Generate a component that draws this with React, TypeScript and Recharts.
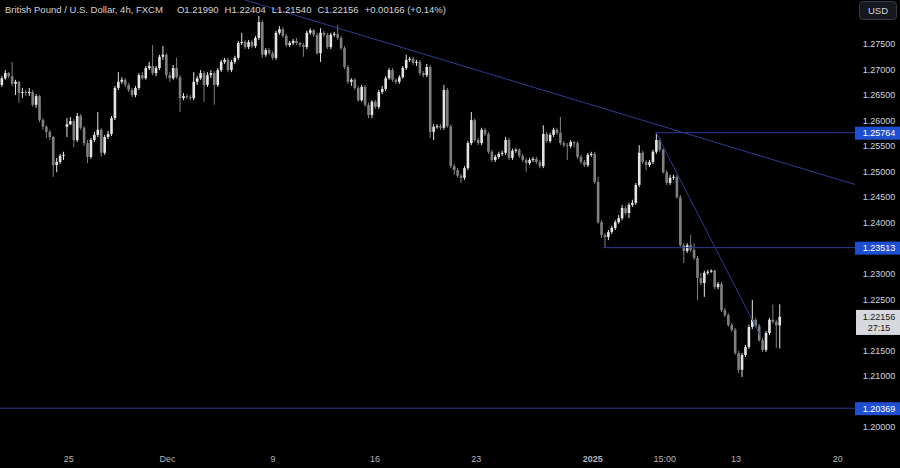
import { Bar, ComposedChart, ReferenceLine, XAxis, YAxis } from 'recharts'

// GBP/USD 4h candles (O/H/L/C)
const opens = [
  1.2670, 1.2683, 1.2693, 1.2687, 1.2672, 1.2676, 1.2654, 1.2656, 1.2654, 1.2656,
  1.2631, 1.2648, 1.2601, 1.2588, 1.2578, 1.2568, 1.2513, 1.2519, 1.2531, 1.2588,
  1.2593, 1.2599, 1.2562, 1.2609, 1.2586, 1.2556, 1.2529, 1.2562, 1.2572, 1.2582,
  1.2537, 1.2568, 1.2574, 1.2605, 1.2664, 1.2676, 1.2680, 1.2670, 1.2660, 1.2650,
  1.2664, 1.2689, 1.2683, 1.2703, 1.2707, 1.2693, 1.2703, 1.2725, 1.2729, 1.2689,
  1.2683, 1.2703, 1.2685, 1.2644, 1.2648, 1.2646, 1.2644, 1.2676, 1.2683, 1.2693,
  1.2670, 1.2689, 1.2693, 1.2670, 1.2699, 1.2715, 1.2719, 1.2699, 1.2715, 1.2723,
  1.2752, 1.2754, 1.2744, 1.2754, 1.2746, 1.2762, 1.2793, 1.2729, 1.2738, 1.2732,
  1.2723, 1.2772, 1.2779, 1.2766, 1.2748, 1.2752, 1.2756, 1.2752, 1.2748, 1.2744,
  1.2772, 1.2777, 1.2768, 1.2732, 1.2772, 1.2768, 1.2744, 1.2768, 1.2770, 1.2762,
  1.2742, 1.2705, 1.2676, 1.2680, 1.2664, 1.2640, 1.2666, 1.2631, 1.2611, 1.2637,
  1.2627, 1.2656, 1.2662, 1.2683, 1.2699, 1.2680, 1.2676, 1.2685, 1.2703, 1.2719,
  1.2721, 1.2713, 1.2715, 1.2693, 1.2689, 1.2705, 1.2578, 1.2588, 1.2589, 1.2586,
  1.2660, 1.2589, 1.2511, 1.2503, 1.2492, 1.2488, 1.2507, 1.2556, 1.2601, 1.2562,
  1.2556, 1.2582, 1.2574, 1.2539, 1.2523, 1.2529, 1.2535, 1.2537, 1.2562, 1.2527,
  1.2541, 1.2543, 1.2531, 1.2523, 1.2517, 1.2523, 1.2525, 1.2519, 1.2511, 1.2574,
  1.2560, 1.2572, 1.2582, 1.2576, 1.2556, 1.2552, 1.2550, 1.2558, 1.2556, 1.2529,
  1.2519, 1.2513, 1.2533, 1.2535, 1.2480, 1.2401, 1.2376, 1.2372, 1.2382, 1.2390,
  1.2401, 1.2409, 1.2429, 1.2419, 1.2435, 1.2439, 1.2474, 1.2537, 1.2519, 1.2513,
  1.2519, 1.2539, 1.2562, 1.2543, 1.2499, 1.2478, 1.2488, 1.2490, 1.2450, 1.2356,
  1.2345, 1.2356, 1.2347, 1.2331, 1.2292, 1.2282, 1.2302, 1.2304, 1.2306, 1.2274,
  1.2280, 1.2229, 1.2219, 1.2200, 1.2190, 1.2145, 1.2112, 1.2141, 1.2157, 1.2196,
  1.2210, 1.2198, 1.2170, 1.2151, 1.2184, 1.2210, 1.2206, 1.21990,
]

const highs = [
  1.2687, 1.2699, 1.2695, 1.2715, 1.2680, 1.2678, 1.2664, 1.2660, 1.2664, 1.2660,
  1.2652, 1.2650, 1.2605, 1.2591, 1.2582, 1.2570, 1.2527, 1.2535, 1.2539, 1.2605,
  1.2607, 1.2603, 1.2615, 1.2613, 1.2589, 1.2562, 1.2566, 1.2578, 1.2617, 1.2586,
  1.2572, 1.2580, 1.2609, 1.2668, 1.2695, 1.2685, 1.2683, 1.2674, 1.2664, 1.2668,
  1.2693, 1.2695, 1.2707, 1.2715, 1.2748, 1.2707, 1.2729, 1.2746, 1.2732, 1.2695,
  1.2709, 1.2723, 1.2689, 1.2654, 1.2652, 1.2650, 1.2695, 1.2687, 1.2699, 1.2697,
  1.2695, 1.2699, 1.2697, 1.2703, 1.2719, 1.2723, 1.2723, 1.2719, 1.2727, 1.2756,
  1.2772, 1.2758, 1.2758, 1.2758, 1.2766, 1.2805, 1.2797, 1.2742, 1.2742, 1.2736,
  1.2776, 1.2785, 1.2783, 1.2770, 1.2756, 1.2760, 1.2762, 1.2754, 1.2752, 1.2776,
  1.2781, 1.2779, 1.2772, 1.2781, 1.2776, 1.2772, 1.2772, 1.2774, 1.2787, 1.2766,
  1.2746, 1.2709, 1.2683, 1.2683, 1.2668, 1.2670, 1.2670, 1.2635, 1.2640, 1.2640,
  1.2660, 1.2668, 1.2687, 1.2703, 1.2703, 1.2683, 1.2689, 1.2707, 1.2729, 1.2725,
  1.2725, 1.2719, 1.2719, 1.2697, 1.2711, 1.2709, 1.2593, 1.2593, 1.2593, 1.2670,
  1.2664, 1.2593, 1.2515, 1.2507, 1.2496, 1.2511, 1.2560, 1.2617, 1.2605, 1.2566,
  1.2586, 1.2586, 1.2578, 1.2543, 1.2533, 1.2539, 1.2541, 1.2568, 1.2566, 1.2545,
  1.2546, 1.2546, 1.2535, 1.2527, 1.2527, 1.2529, 1.2529, 1.2523, 1.2591, 1.2578,
  1.2576, 1.2586, 1.2586, 1.2607, 1.2560, 1.2556, 1.2562, 1.2560, 1.2560, 1.2533,
  1.2523, 1.2537, 1.2539, 1.2539, 1.2490, 1.2405, 1.2380, 1.2386, 1.2394, 1.2405,
  1.2415, 1.2435, 1.2433, 1.2439, 1.2445, 1.2478, 1.2552, 1.2541, 1.2523, 1.2523,
  1.2543, 1.2576, 1.2566, 1.2546, 1.2503, 1.2494, 1.2494, 1.2494, 1.2454, 1.2360,
  1.2360, 1.2376, 1.2360, 1.2335, 1.2302, 1.2306, 1.2308, 1.2309, 1.2308, 1.2284,
  1.2284, 1.2233, 1.2223, 1.2204, 1.2194, 1.2149, 1.2145, 1.2161, 1.2200, 1.2249,
  1.2214, 1.2202, 1.2174, 1.2188, 1.2214, 1.2240, 1.2210, 1.22404,
]

const lows = [
  1.2666, 1.2680, 1.2683, 1.2668, 1.2650, 1.2635, 1.2644, 1.2648, 1.2648, 1.2627,
  1.2625, 1.2597, 1.2582, 1.2566, 1.2562, 1.2490, 1.2499, 1.2515, 1.2523, 1.2568,
  1.2591, 1.2548, 1.2558, 1.2582, 1.2550, 1.2517, 1.2525, 1.2558, 1.2568, 1.2529,
  1.2533, 1.2564, 1.2570, 1.2601, 1.2660, 1.2672, 1.2666, 1.2656, 1.2646, 1.2646,
  1.2660, 1.2680, 1.2680, 1.2699, 1.2689, 1.2687, 1.2699, 1.2719, 1.2683, 1.2676,
  1.2680, 1.2682, 1.2617, 1.2640, 1.2642, 1.2640, 1.2640, 1.2670, 1.2680, 1.2637,
  1.2666, 1.2683, 1.2631, 1.2666, 1.2695, 1.2711, 1.2695, 1.2695, 1.2711, 1.2719,
  1.2748, 1.2740, 1.2740, 1.2742, 1.2742, 1.2758, 1.2723, 1.2725, 1.2729, 1.2719,
  1.2719, 1.2768, 1.2762, 1.2744, 1.2744, 1.2748, 1.2748, 1.2744, 1.2725, 1.2740,
  1.2768, 1.2764, 1.2729, 1.2715, 1.2764, 1.2740, 1.2740, 1.2764, 1.2758, 1.2738,
  1.2701, 1.2672, 1.2668, 1.2660, 1.2637, 1.2637, 1.2627, 1.2605, 1.2605, 1.2623,
  1.2623, 1.2652, 1.2658, 1.2680, 1.2676, 1.2672, 1.2672, 1.2682, 1.2699, 1.2715,
  1.2709, 1.2707, 1.2689, 1.2685, 1.2685, 1.2566, 1.2562, 1.2584, 1.2582, 1.2582,
  1.2586, 1.2507, 1.2494, 1.2488, 1.2478, 1.2484, 1.2503, 1.2552, 1.2558, 1.2552,
  1.2552, 1.2570, 1.2535, 1.2519, 1.2519, 1.2525, 1.2531, 1.2533, 1.2523, 1.2523,
  1.2537, 1.2527, 1.2519, 1.2499, 1.2513, 1.2519, 1.2515, 1.2507, 1.2507, 1.2556,
  1.2556, 1.2568, 1.2572, 1.2552, 1.2548, 1.2523, 1.2546, 1.2548, 1.2525, 1.2515,
  1.2509, 1.2509, 1.2529, 1.2476, 1.2398, 1.2370, 1.2351, 1.2366, 1.2378, 1.2386,
  1.2398, 1.2405, 1.2415, 1.2409, 1.2431, 1.2435, 1.2470, 1.2515, 1.2503, 1.2509,
  1.2515, 1.2535, 1.2539, 1.2496, 1.2474, 1.2474, 1.2484, 1.2447, 1.2353, 1.2321,
  1.2341, 1.2343, 1.2327, 1.2249, 1.2278, 1.2255, 1.2298, 1.2302, 1.2270, 1.2270,
  1.2225, 1.2215, 1.2196, 1.2186, 1.2141, 1.2106, 1.2098, 1.2137, 1.2153, 1.2192,
  1.2194, 1.2167, 1.2147, 1.2147, 1.2180, 1.2202, 1.2155, 1.21540,
]

const closes = [
  1.2683, 1.2693, 1.2687, 1.2672, 1.2676, 1.2654, 1.2656, 1.2654, 1.2656, 1.2631,
  1.2648, 1.2601, 1.2588, 1.2578, 1.2568, 1.2513, 1.2519, 1.2531, 1.2533, 1.2593,
  1.2599, 1.2562, 1.2609, 1.2586, 1.2556, 1.2529, 1.2562, 1.2572, 1.2582, 1.2537,
  1.2568, 1.2574, 1.2605, 1.2664, 1.2676, 1.2680, 1.2670, 1.2660, 1.2650, 1.2664,
  1.2689, 1.2683, 1.2703, 1.2707, 1.2693, 1.2703, 1.2725, 1.2729, 1.2689, 1.2683,
  1.2703, 1.2685, 1.2644, 1.2648, 1.2646, 1.2644, 1.2676, 1.2683, 1.2693, 1.2670,
  1.2689, 1.2693, 1.2670, 1.2699, 1.2715, 1.2719, 1.2699, 1.2715, 1.2723, 1.2752,
  1.2754, 1.2744, 1.2754, 1.2746, 1.2762, 1.2793, 1.2729, 1.2738, 1.2732, 1.2723,
  1.2772, 1.2779, 1.2766, 1.2748, 1.2752, 1.2756, 1.2752, 1.2748, 1.2744, 1.2772,
  1.2777, 1.2768, 1.2732, 1.2772, 1.2768, 1.2744, 1.2768, 1.2770, 1.2762, 1.2742,
  1.2705, 1.2676, 1.2680, 1.2664, 1.2640, 1.2666, 1.2631, 1.2611, 1.2637, 1.2627,
  1.2656, 1.2662, 1.2683, 1.2699, 1.2680, 1.2676, 1.2685, 1.2703, 1.2719, 1.2721,
  1.2713, 1.2715, 1.2693, 1.2689, 1.2705, 1.2578, 1.2588, 1.2589, 1.2586, 1.2660,
  1.2589, 1.2511, 1.2503, 1.2492, 1.2488, 1.2507, 1.2556, 1.2601, 1.2562, 1.2556,
  1.2582, 1.2574, 1.2539, 1.2523, 1.2529, 1.2535, 1.2537, 1.2562, 1.2527, 1.2541,
  1.2543, 1.2531, 1.2523, 1.2517, 1.2523, 1.2525, 1.2519, 1.2511, 1.2574, 1.2560,
  1.2572, 1.2582, 1.2576, 1.2556, 1.2552, 1.2550, 1.2558, 1.2556, 1.2529, 1.2519,
  1.2513, 1.2533, 1.2535, 1.2480, 1.2401, 1.2376, 1.2372, 1.2382, 1.2390, 1.2401,
  1.2409, 1.2429, 1.2419, 1.2435, 1.2439, 1.2474, 1.2537, 1.2519, 1.2513, 1.2519,
  1.2539, 1.2562, 1.2543, 1.2499, 1.2478, 1.2488, 1.2490, 1.2450, 1.2356, 1.2345,
  1.2356, 1.2347, 1.2331, 1.2292, 1.2282, 1.2302, 1.2304, 1.2306, 1.2274, 1.2280,
  1.2229, 1.2219, 1.2200, 1.2190, 1.2145, 1.2112, 1.2141, 1.2157, 1.2196, 1.2210,
  1.2198, 1.2170, 1.2151, 1.2184, 1.2210, 1.2206, 1.2199, 1.22156,
]

// time axis: candle index of each label
const dayTicks = [19.5, 48.3, 79.1, 108.8, 138.4, 172.4, 193.4, 214.2, 243.9]
const dayLabels = ['25', 'Dec', '9', '16', '23', '2025', '15:00', '13', '20']

const priceTicks = [1.2, 1.21, 1.215, 1.225, 1.23, 1.24, 1.245, 1.25, 1.255, 1.26, 1.265, 1.27, 1.275]
const levels = [1.25764, 1.23513, 1.20369]
const levelStart = [190.7, 175.4, -0.6]
const countdown = '27:15'

// drawn trend lines, in (candle index, price)
const downTrend = [{ x: 70.9, y: 1.28362 }, { x: 248.9, y: 1.24749 }]
const dropLine = [{ x: 190.9, y: 1.2576 }, { x: 221.5, y: 1.2176 }]

const X_DOMAIN = [-0.6, 248.9]
const Y_DOMAIN = [1.19668, 1.28362]

const UP = '#e4e4e4'
const DOWN = '#808080'
const LINE = '#2d3b94'
const LABEL = '#1f4fd1'
const TEXT = '#d1d4dc'

const candles = closes.map((close, i) => ({
  i,
  open: opens[i],
  high: highs[i],
  low: lows[i],
  close,
  range: [lows[i], highs[i]],
}))

const last = candles[candles.length - 1]
const prevClose = candles[candles.length - 2].close
const lastPrice = last.close
const change = last.close - prevClose
const legend = [
  `O${last.open.toFixed(5)}`,
  `H${last.high.toFixed(5)}`,
  `L${last.low.toFixed(5)}`,
  `C${last.close.toFixed(5)}`,
  `+${change.toFixed(5)} (+${((change / prevClose) * 100).toFixed(2)}%)`,
]

function Candle(props: any) {
  const { x, y, width, height, payload } = props
  if (height == null || !payload) return null
  const { open, close, high, low } = payload
  const color = close >= open ? UP : DOWN
  const k = height / (high - low)
  const cx = x + width / 2
  const yOpen = y + (high - open) * k
  const yClose = y + (high - close) * k
  const top = Math.min(yOpen, yClose)
  const h = Math.max(1, Math.abs(yOpen - yClose))
  return (
    <g>
      <line x1={cx} x2={cx} y1={y} y2={y + height} stroke={color} strokeWidth={1} />
      <rect x={cx - 1.3} y={top} width={2.6} height={h} fill={color} />
    </g>
  )
}

function PriceTick(props: any) {
  const { x, y, payload } = props
  const v = payload.value
  const cx = x + 17
  if (levels.includes(v)) {
    return (
      <g>
        <rect x={x - 7} y={y - 6} width={45} height={13} fill={LABEL} />
        <text x={cx} y={y + 0.5} dy="0.355em" textAnchor="middle" fill="#ffffff" fontSize={9}>
          {v.toFixed(5)}
        </text>
      </g>
    )
  }
  if (v === lastPrice) {
    return (
      <g>
        <rect x={x - 6} y={y - 7} width={44} height={25} fill="#d6d8de" />
        <text x={cx} y={y} dy="0.355em" textAnchor="middle" fill="#131722" fontSize={9}>
          {v.toFixed(5)}
        </text>
        <text x={cx} y={y + 11} dy="0.355em" textAnchor="middle" fill="#131722" fontSize={9}>
          {countdown}
        </text>
      </g>
    )
  }
  return (
    <text x={cx} y={y} dy="0.355em" textAnchor="middle" fill={TEXT} fontSize={9}>
      {v.toFixed(5)}
    </text>
  )
}

function DayTick(props: any) {
  const { x, y, payload } = props
  const label = dayLabels[dayTicks.indexOf(payload.value)]
  return (
    <text
      x={x}
      y={y}
      dy="0.71em"
      textAnchor="middle"
      fill="#b2b5be"
      fontSize={9}
      fontWeight={label === '2025' ? 700 : 400}
    >
      {label}
    </text>
  )
}

export default function App() {
  return (
    <div
      style={{
        position: 'absolute',
        left: 0,
        top: 0,
        width: 900,
        height: 468,
        background: '#000',
        fontFamily: '"Liberation Sans", Arial, sans-serif',
        overflow: 'hidden',
      }}
    >
      <ComposedChart width={900} height={468} data={candles} margin={{ top: 0, right: 0, bottom: 0, left: 0 }}>
        <XAxis
          dataKey="i"
          type="number"
          domain={X_DOMAIN}
          ticks={dayTicks}
          interval={0}
          tick={<DayTick />}
          axisLine={false}
          tickLine={false}
          tickSize={0}
          tickMargin={12}
          height={24}
          allowDataOverflow
        />
        <YAxis
          orientation="right"
          type="number"
          domain={Y_DOMAIN}
          ticks={[...priceTicks, ...levels, lastPrice]}
          interval={0}
          tick={<PriceTick />}
          width={45}
          axisLine={false}
          tickLine={false}
          tickSize={0}
          tickMargin={7}
          allowDataOverflow
        />
        {levels.map((v, k) => (
          <ReferenceLine
            key={v}
            segment={[{ x: levelStart[k], y: v }, { x: X_DOMAIN[1], y: v }]}
            stroke={LINE}
            strokeWidth={1}
            ifOverflow="hidden"
          />
        ))}
        <ReferenceLine segment={downTrend} stroke={LINE} strokeWidth={1} ifOverflow="hidden" />
        <ReferenceLine segment={dropLine} stroke={LINE} strokeWidth={1} ifOverflow="hidden" />
        <Bar dataKey="range" shape={<Candle />} barSize={3} isAnimationActive={false} />
      </ComposedChart>

      <div
        style={{
          position: 'absolute',
          left: 5,
          top: 4,
          fontSize: 9.5,
          color: TEXT,
          whiteSpace: 'nowrap',
          display: 'flex',
          gap: 6,
        }}
      >
        <span style={{ marginRight: 8 }}>British Pound / U.S. Dollar, 4h, FXCM</span>
        {legend.map((t) => (
          <span key={t}>{t}</span>
        ))}
      </div>

      <div
        style={{
          position: 'absolute',
          left: 859,
          top: 1,
          width: 38,
          height: 19,
          boxSizing: 'border-box',
          border: '1px solid #363a45',
          borderRadius: 4,
          background: '#16181e',
          color: TEXT,
          fontSize: 9.5,
          lineHeight: '17px',
          textAlign: 'center',
        }}
      >
        USD
      </div>
    </div>
  )
}
